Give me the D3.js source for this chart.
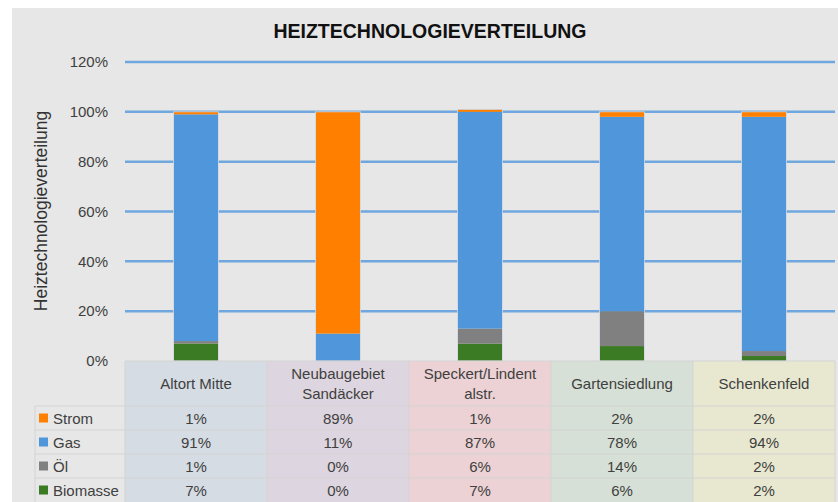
<!DOCTYPE html>
<html>
<head>
<meta charset="utf-8">
<script src="https://cdn.jsdelivr.net/npm/d3@7"></script>
<style>
  body { margin: 0; background: #fff; }
  svg { display: block; }
  text { font-family: "Liberation Sans", Arial, sans-serif; }
</style>
</head>
<body>
<div id="chart"></div>
<script>
// data
var categories = ["Altort Mitte", "Neubaugebiet Sandäcker", "Speckert/Lindent alstr.", "Gartensiedlung", "Schenkenfeld"];
var headerLines = [["Altort Mitte"], ["Neubaugebiet", "Sandäcker"], ["Speckert/Lindent", "alstr."], ["Gartensiedlung"], ["Schenkenfeld"]];
var seriesNames = ["Strom", "Gas", "Öl", "Biomasse"];
var strom = [1, 89, 1, 2, 2];
var gas = [91, 11, 87, 78, 94];
var oel = [1, 0, 6, 14, 2];
var biomasse = [7, 0, 7, 6, 2];
var yTicks = [0, 20, 40, 60, 80, 100, 120];

var seriesColors = { "Strom": "#ff8000", "Gas": "#4f96da", "Öl": "#808080", "Biomasse": "#3b7b23" };
var colBg = ["#d5dce3", "#ddd5df", "#ecd2d4", "#d6e0d6", "#e8e8d0"];

var width = 838, height = 502;
var plotLeft = 125, plotRight = 835, plotTop = 62, plotBottom = 361;
var headerH = 45, rowH = 24, legendLeft = 35;

var rows = categories.map(function(c, i) {
  return { cat: c, Strom: strom[i], Gas: gas[i], "Öl": oel[i], Biomasse: biomasse[i] };
});
var valuesBySeries = { "Strom": strom, "Gas": gas, "Öl": oel, "Biomasse": biomasse };

var svg = d3.select("#chart").append("svg")
  .attr("width", width)
  .attr("height", height);

svg.append("rect")
  .attr("x", 12).attr("y", 8)
  .attr("width", width - 12).attr("height", height - 8)
  .attr("fill", "#e7e7e7");

var x = d3.scaleBand().domain(categories).range([plotLeft, plotRight])
  .paddingInner(0.69).paddingOuter(0.345);
var xCol = d3.scaleBand().domain(categories).range([plotLeft, plotRight]).padding(0);
var y = d3.scaleLinear().domain([0, 120]).range([plotBottom, plotTop]);

// title
svg.append("text")
  .attr("x", 430).attr("y", 38)
  .attr("text-anchor", "middle")
  .attr("font-size", 19.5)
  .attr("font-weight", "bold")
  .attr("fill", "#111")
  .text("HEIZTECHNOLOGIEVERTEILUNG");

// y axis label
svg.append("text")
  .attr("transform", "translate(47," + 211 + ") rotate(-90)")
  .attr("text-anchor", "middle")
  .attr("font-size", 17.5)
  .attr("fill", "#333")
  .text("Heiztechnologieverteilung");

// grid
svg.append("g")
  .selectAll("line")
  .data(yTicks.filter(function(d) { return d > 0; }))
  .enter()
  .append("line")
  .attr("x1", plotLeft).attr("x2", plotRight)
  .attr("y1", function(d) { return y(d); })
  .attr("y2", function(d) { return y(d); })
  .attr("stroke", "#6fa7de")
  .attr("stroke-width", 2.5);

// y axis
var yAxis = svg.append("g")
  .attr("transform", "translate(111,0)")
  .call(d3.axisLeft(y).tickValues(yTicks).tickSize(0).tickFormat(function(d) { return d + "%"; }));
yAxis.select(".domain").remove();
yAxis.selectAll("text")
  .attr("font-size", 15)
  .attr("fill", "#404040")
  .attr("font-family", "Liberation Sans, Arial, sans-serif");

// stacked bars
var stack = d3.stack().keys(["Biomasse", "Öl", "Gas", "Strom"]);
var stacked = stack(rows);

svg.append("g")
  .selectAll("g")
  .data(stacked)
  .enter()
  .append("g")
  .attr("fill", function(d) { return seriesColors[d.key]; })
  .selectAll("rect")
  .data(function(d) { return d; })
  .enter()
  .append("rect")
  .attr("x", function(d) { return x(d.data.cat); })
  .attr("width", x.bandwidth())
  .attr("y", function(d) { return y(d[1]); })
  .attr("height", function(d) { return y(d[0]) - y(d[1]); });

// bar outlines
svg.append("g")
  .selectAll("rect")
  .data(rows)
  .enter()
  .append("rect")
  .attr("x", function(d) { return x(d.cat) - 0.5; })
  .attr("width", x.bandwidth() + 1)
  .attr("y", function(d) { return y(d.Strom + d.Gas + d["Öl"] + d.Biomasse); })
  .attr("height", function(d) { return plotBottom - y(d.Strom + d.Gas + d["Öl"] + d.Biomasse); })
  .attr("fill", "none")
  .attr("stroke", "#cfd8e0")
  .attr("stroke-width", 0.8);

// data table
var table = svg.append("g");
var tableBottom = plotBottom + headerH + rowH * seriesNames.length;
var borderColor = "#d3d3d3";

table.selectAll("rect.col")
  .data(categories)
  .enter()
  .append("rect")
  .attr("class", "col")
  .attr("x", function(d) { return xCol(d); })
  .attr("y", plotBottom)
  .attr("width", xCol.bandwidth())
  .attr("height", tableBottom - plotBottom)
  .attr("fill", function(d, i) { return colBg[i]; });

// horizontal row lines
var rowLines = seriesNames.map(function(s, i) { return plotBottom + headerH + i * rowH; });
table.selectAll("line.row")
  .data(rowLines)
  .enter()
  .append("line")
  .attr("x1", legendLeft).attr("x2", plotRight)
  .attr("y1", function(d) { return d; }).attr("y2", function(d) { return d; })
  .attr("stroke", borderColor)
  .attr("stroke-width", 1);

table.append("line")
  .attr("x1", plotLeft).attr("x2", plotRight)
  .attr("y1", plotBottom).attr("y2", plotBottom)
  .attr("stroke", borderColor);

// vertical lines
var colEdges = categories.map(function(c) { return xCol(c); }).concat([plotRight]);
table.selectAll("line.col")
  .data(colEdges)
  .enter()
  .append("line")
  .attr("x1", function(d) { return d; }).attr("x2", function(d) { return d; })
  .attr("y1", plotBottom).attr("y2", tableBottom)
  .attr("stroke", borderColor);

table.append("line")
  .attr("x1", legendLeft).attr("x2", legendLeft)
  .attr("y1", plotBottom + headerH).attr("y2", tableBottom)
  .attr("stroke", borderColor);

// header text
table.selectAll("text.head")
  .data(categories)
  .enter()
  .append("text")
  .attr("class", "head")
  .attr("text-anchor", "middle")
  .attr("font-size", 15)
  .attr("fill", "#404040")
  .each(function(d, i) {
    var lines = headerLines[i];
    var cx = xCol(d) + xCol.bandwidth() / 2;
    var cy = plotBottom + headerH / 2;
    var start = cy - (lines.length - 1) * 10 + 5;
    d3.select(this).selectAll("tspan")
      .data(lines)
      .enter()
      .append("tspan")
      .attr("x", cx)
      .attr("y", function(l, j) { return start + j * 20; })
      .text(function(l) { return l; });
  });

// legend keys + values
seriesNames.forEach(function(s, i) {
  var ry = plotBottom + headerH + i * rowH;
  table.append("rect")
    .attr("x", 39).attr("y", ry + rowH / 2 - 4.5)
    .attr("width", 9).attr("height", 9)
    .attr("fill", seriesColors[s]);
  table.append("text")
    .attr("x", 53).attr("y", ry + rowH / 2 + 5.5)
    .attr("font-size", 15)
    .attr("fill", "#404040")
    .text(s);
  table.selectAll("text.v" + i)
    .data(valuesBySeries[s])
    .enter()
    .append("text")
    .attr("text-anchor", "middle")
    .attr("x", function(v, j) { return xCol(categories[j]) + xCol.bandwidth() / 2; })
    .attr("y", ry + rowH / 2 + 5.5)
    .attr("font-size", 15)
    .attr("fill", "#404040")
    .text(function(v) { return v + "%"; });
});
</script>
</body>
</html>
